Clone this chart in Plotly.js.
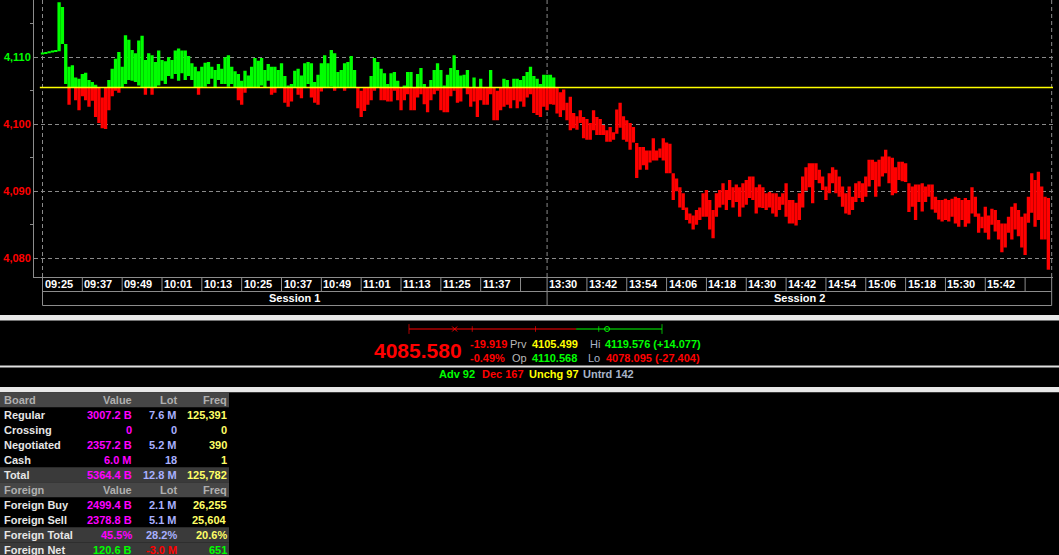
<!DOCTYPE html>
<html>
<head>
<meta charset="utf-8">
<script src="https://cdn.plot.ly/plotly-3.0.1.min.js"></script>
<style>
  html, body { margin: 0; padding: 0; background: #000; overflow: hidden; }
  #chart { width: 1059px; height: 555px; }
</style>
</head>
<body>
<div id="chart"></div>
<script>
'use strict';

// per-minute low / high of the index; session 1 starts 09:25, session 2 starts 13:30
var s1Low = [
  4110.4, 4110.5, 4110.6, 4110.7, 4110.8, 4110.9, 4112.0, 4106.0, 4102.9, 4105.5,
  4103.6, 4102.1, 4104.2, 4103.6, 4102.6, 4103.5, 4101.1, 4100.2, 4099.4, 4099.3,
  4102.1, 4104.2, 4105.0, 4104.7, 4105.5, 4106.0, 4106.6, 4106.5, 4106.3, 4105.8,
  4105.5, 4104.4, 4105.5, 4104.4, 4105.5, 4105.8, 4106.5, 4106.0, 4107.2, 4106.8,
  4107.5, 4106.5, 4107.6, 4106.6, 4107.2, 4106.6, 4105.5, 4104.4, 4105.5, 4105.6,
  4106.0, 4106.8, 4105.5, 4106.6, 4106.0, 4106.0, 4105.6, 4106.0, 4105.5, 4103.6,
  4102.9, 4104.7, 4105.5, 4105.5, 4105.5, 4105.5, 4105.8, 4105.5, 4106.5, 4104.4,
  4104.7, 4105.5, 4105.5, 4103.2, 4102.6, 4103.4, 4105.5, 4104.4, 4103.9, 4105.5,
  4106.0, 4104.0, 4103.2, 4102.9, 4104.9, 4105.5, 4105.5, 4105.6, 4105.0, 4105.5,
  4105.5, 4105.0, 4105.5, 4105.5, 4105.5, 4102.4, 4101.1, 4102.0, 4102.9, 4103.6,
  4105.0, 4105.5, 4103.6, 4103.6, 4103.4, 4103.4, 4105.0, 4103.6, 4102.1, 4103.6,
  4104.5, 4102.1, 4102.1, 4104.0, 4104.5, 4103.0, 4101.8, 4103.6, 4104.5, 4105.0,
  4102.1, 4101.8, 4101.8, 4104.2, 4105.0, 4103.2, 4103.4, 4105.5, 4104.5, 4102.6,
  4103.4, 4101.1, 4103.6, 4102.9, 4102.9, 4104.5, 4100.6, 4100.6, 4102.1, 4102.6,
  4102.9, 4102.4, 4103.6, 4102.4, 4103.4, 4102.6, 4104.0, 4104.5, 4101.7, 4101.4,
  4101.1, 4102.6
];
var s1High = [
  4110.7, 4110.8, 4110.9, 4111.0, 4111.1, 4118.2, 4117.5, 4112.0, 4108.6, 4108.8,
  4107.0, 4106.8, 4107.5, 4107.7, 4106.6, 4106.3, 4105.9, 4105.5, 4104.0, 4105.5,
  4106.6, 4108.3, 4109.8, 4110.8, 4108.6, 4113.3, 4112.6, 4111.1, 4110.6, 4112.5,
  4113.2, 4109.6, 4110.6, 4110.3, 4109.3, 4111.0, 4109.6, 4109.4, 4110.0, 4109.6,
  4111.0, 4111.3, 4111.0, 4111.0, 4110.2, 4109.1, 4108.6, 4107.9, 4108.6, 4109.2,
  4109.3, 4108.6, 4108.1, 4109.0, 4108.3, 4110.0, 4110.3, 4108.6, 4107.9, 4107.5,
  4106.5, 4108.0, 4107.3, 4108.6, 4109.9, 4109.5, 4109.9, 4108.1, 4109.0, 4108.6,
  4108.6, 4108.1, 4109.1, 4107.2, 4105.8, 4106.0, 4108.0, 4108.3, 4107.3, 4109.1,
  4109.3, 4109.1, 4106.3, 4107.4, 4109.1, 4110.3, 4109.1, 4111.1, 4110.6, 4107.8,
  4108.1, 4109.1, 4109.3, 4110.2, 4108.1, 4105.5, 4105.0, 4105.5, 4105.5, 4107.2,
  4109.9, 4109.3, 4108.3, 4107.6, 4106.0, 4107.6, 4107.8, 4106.5, 4105.5, 4105.8,
  4107.8, 4107.8, 4105.5, 4107.5, 4108.4, 4106.0, 4105.5, 4106.6, 4108.1, 4109.1,
  4108.1, 4105.8, 4107.4, 4108.4, 4110.3, 4108.1, 4107.3, 4107.4, 4108.1, 4105.5,
  4107.0, 4105.5, 4106.8, 4105.5, 4105.5, 4108.1, 4105.5, 4105.0, 4105.5, 4106.8,
  4106.6, 4105.5, 4106.8, 4106.8, 4106.6, 4107.2, 4107.8, 4108.6, 4107.2, 4106.8,
  4106.0, 4107.4
];
var s2Low = [
  4102.1, 4103.0, 4102.9, 4101.6, 4101.1, 4102.1, 4100.6, 4099.1,
  4099.4, 4099.2, 4100.2, 4097.9, 4097.7, 4097.7, 4099.1, 4098.4, 4098.4, 4098.4,
  4097.4, 4097.4, 4097.7, 4098.6, 4099.5, 4097.7, 4097.4, 4096.2, 4097.3, 4092.0,
  4093.2, 4093.9, 4093.2, 4094.3, 4094.6, 4094.6, 4095.0, 4094.6, 4092.7, 4092.7,
  4088.7, 4090.0, 4087.6, 4087.2, 4085.7, 4085.2, 4084.3, 4085.0, 4085.7, 4086.2,
  4086.2, 4084.3, 4083.0, 4086.2, 4087.6, 4088.0, 4087.2, 4088.7, 4087.6, 4088.4,
  4086.2, 4087.6, 4088.0, 4089.0, 4088.7, 4086.7, 4087.6, 4087.5, 4087.2, 4087.6,
  4086.7, 4086.2, 4087.2, 4088.0, 4086.2, 4085.2, 4085.2, 4084.9, 4085.7, 4087.6,
  4090.1, 4090.6, 4088.2, 4091.7, 4091.2, 4090.2, 4088.7, 4089.7, 4091.2, 4089.7,
  4089.2, 4087.7, 4086.7, 4086.5, 4087.2, 4088.4, 4089.0, 4088.4, 4089.2, 4090.7,
  4091.7, 4089.2, 4090.7, 4092.2, 4092.7, 4091.2, 4089.4, 4089.7, 4091.7, 4091.5,
  4091.4, 4086.9, 4087.7, 4085.7, 4088.4, 4087.0, 4088.4, 4089.2, 4087.3, 4086.8,
  4085.8, 4085.5, 4085.7, 4085.5, 4086.2, 4085.2, 4084.7, 4085.7, 4084.7, 4085.2,
  4086.7, 4086.2, 4083.8, 4084.5, 4083.8, 4082.8, 4085.0, 4084.0, 4082.8, 4080.9,
  4081.6, 4083.8, 4082.8, 4084.3, 4083.3, 4081.6, 4080.5, 4085.3, 4086.8, 4084.7,
  4085.7, 4082.8, 4082.8, 4078.3
];
var s2High = [
  4107.4, 4107.4, 4107.0, 4105.5, 4104.8, 4105.2, 4103.2, 4104.1,
  4101.7, 4101.2, 4102.1, 4101.1, 4100.8, 4100.2, 4102.1, 4101.1, 4100.8, 4099.9,
  4099.1, 4099.6, 4098.8, 4102.2, 4103.2, 4101.2, 4100.6, 4100.2, 4099.6, 4097.2,
  4096.6, 4096.6, 4096.1, 4096.1, 4097.9, 4096.1, 4096.4, 4097.9, 4097.3, 4097.1,
  4092.7, 4091.9, 4090.6, 4089.7, 4087.6, 4086.7, 4086.4, 4087.2, 4087.6, 4089.7,
  4090.2, 4088.7, 4087.2, 4089.7, 4090.2, 4091.2, 4090.2, 4091.7, 4090.6, 4091.0,
  4090.6, 4091.2, 4091.7, 4092.2, 4092.2, 4090.6, 4091.0, 4090.6, 4089.7, 4089.9,
  4089.7, 4089.7, 4089.2, 4089.7, 4091.2, 4088.7, 4088.7, 4088.3, 4089.7, 4092.2,
  4093.6, 4094.2, 4094.2, 4094.2, 4093.2, 4092.2, 4090.7, 4092.7, 4093.6, 4093.2,
  4092.2, 4090.7, 4089.7, 4090.7, 4089.2, 4091.2, 4091.5, 4091.2, 4092.2, 4094.7,
  4094.7, 4094.4, 4094.7, 4095.2, 4096.2, 4095.2, 4095.0, 4093.6, 4094.4, 4094.4,
  4094.2, 4091.2, 4090.7, 4091.0, 4091.0, 4091.2, 4090.7, 4091.0, 4091.0, 4089.2,
  4088.7, 4088.7, 4088.9, 4088.7, 4088.9, 4089.2, 4089.0, 4088.7, 4089.0, 4088.7,
  4090.6, 4089.2, 4086.7, 4086.2, 4087.7, 4086.4, 4087.4, 4087.2, 4085.7, 4085.2,
  4085.2, 4086.2, 4087.7, 4088.2, 4087.2, 4086.2, 4086.7, 4089.2, 4092.7, 4091.7,
  4092.9, 4090.7, 4089.2, 4089.0
];

var prevClose = 4105.499;
var lastPrice = 4085.580;
var openPrice = 4110.568;
var highPrice = 4119.576;
var lowPrice = 4078.095;

var tickLabels1 = ['09:25', '09:37', '09:49', '10:01', '10:13', '10:25', '10:37', '10:49', '11:01', '11:13', '11:25', '11:37'];
var tickLabels2 = ['13:30', '13:42', '13:54', '14:06', '14:18', '14:30', '14:42', '14:54', '15:06', '15:18', '15:30', '15:42'];
var sessionNames = ['Session 1', 'Session 2'];

var breadthLabels = ['Adv', 'Dec', 'Unchg', 'Untrd'];
var breadthCounts = [92, 167, 97, 142];

var boardRows = ['Regular', 'Crossing', 'Negotiated', 'Cash', 'Total'];
var boardValue = ['3007.2 B', '0', '2357.2 B', '6.0 M', '5364.4 B'];
var boardLot = ['7.6 M', '0', '5.2 M', '18', '12.8 M'];
var boardFreq = ['125,391', '0', '390', '1', '125,782'];

var foreignRows = ['Foreign Buy', 'Foreign Sell', 'Foreign Total', 'Foreign Net'];
var foreignValue = ['2499.4 B', '2378.8 B', '45.5%', '120.6 B'];
var foreignLot = ['2.1 M', '5.1 M', '28.2%', '-3.0 M'];
var foreignFreq = ['26,255', '25,604', '20.6%', '651'];

// ---- page geometry (pixels of the 1059x555 window) ----
var W = 1059, H = 555;
function X(px) { return px / W; }
function Y(py) { return 1 - py / H; }

var FONT = 'Liberation Sans, Arial, sans-serif';
var GREEN = '#00ff00', RED = '#ff0000', YELLOW = '#ffff00';
var GRID = '#8a8a8a', FRAME = '#8c8c8c';

var SESSION_LEN = 152;
var yMin = 4077.21, yMax = 4118.55;
var plotBottom = 277, rowMid = 291.5, rowBottom = 305.5;
var split = Y(plotBottom) + (prevClose - yMin) / (yMax - yMin) * (1 - Y(plotBottom));

function toMin(t) { var p = t.split(':'); return +p[0] * 60 + +p[1]; }

var xs = [], lows = [], highs = [];
s1Low.forEach(function (v, i) { xs.push(i); lows.push(v); highs.push(s1High[i]); });
s2Low.forEach(function (v, i) { xs.push(SESSION_LEN + i); lows.push(v); highs.push(s2High[i]); });
var spans = highs.map(function (h, i) { return h - lows[i]; });
var xEnd = 2 * SESSION_LEN;

// each minute is a low-high bar; the green copy sits in the upper subplot and the red
// copy in the lower one, so the previous close splits them
function rangeBars(axis, color) {
  return {type: 'bar', x: xs, base: lows, y: spans, width: 1, xaxis: 'x', yaxis: axis,
          marker: {color: color, line: {width: 0}}, hoverinfo: 'skip'};
}

// day range bar
var quarters = [0, 1, 2, 3, 4].map(function (k) { return lowPrice + k * (highPrice - lowPrice) / 4; });
var rangeTraces = [
  {x: [lowPrice, prevClose], y: [0, 0], xaxis: 'x3', yaxis: 'y3', mode: 'lines',
   line: {color: RED, width: 1}, cliponaxis: false, hoverinfo: 'skip'},
  {x: [prevClose, highPrice], y: [0, 0], xaxis: 'x3', yaxis: 'y3', mode: 'lines',
   line: {color: GREEN, width: 1}, cliponaxis: false, hoverinfo: 'skip'},
  {x: quarters, y: quarters.map(function () { return 0; }), xaxis: 'x3', yaxis: 'y3', mode: 'markers',
   marker: {symbol: 'line-ns', size: quarters.map(function (q, k) { return (k === 0 || k === 4) ? 7 : 4; }),
            line: {width: 1, color: quarters.map(function (q) { return q < prevClose ? RED : GREEN; })}},
   cliponaxis: false, hoverinfo: 'skip'},
  {x: [lastPrice], y: [0], xaxis: 'x3', yaxis: 'y3', mode: 'markers',
   marker: {symbol: 'x-thin', size: 5, line: {width: 1, color: lastPrice < prevClose ? RED : GREEN}},
   cliponaxis: false, hoverinfo: 'skip'},
  {x: [openPrice], y: [0], xaxis: 'x3', yaxis: 'y3', mode: 'markers',
   marker: {symbol: 'circle-open', size: 5, color: openPrice < prevClose ? RED : GREEN, line: {width: 1}},
   cliponaxis: false, hoverinfo: 'skip'}
];

var shapes = [];
var annotations = [];

function line(xref, x0, x1, y0, y1, color, dash, width) {
  shapes.push({type: 'line', xref: xref, yref: 'paper', x0: x0, x1: x1, y0: y0, y1: y1,
               layer: 'below', line: {color: color, width: width || 1, dash: dash || 'solid'}});
}
function rect(x0, x1, py0, py1, color) {
  shapes.push({type: 'rect', xref: 'paper', yref: 'paper', x0: X(x0), x1: X(x1), y0: Y(py1), y1: Y(py0),
               layer: 'below', fillcolor: color, line: {width: 0}});
}
function txt(text, px, py, color, anchor, size, weight) {
  annotations.push({xref: 'paper', yref: 'paper', x: X(px), y: Y(py), xanchor: anchor || 'left',
                    yanchor: 'middle', text: text, showarrow: false, borderpad: 0,
                    font: {family: FONT, size: size || 11, color: color, weight: weight || 'bold'}});
}

// vertical dashed grid at session edges
[0, SESSION_LEN, xEnd].forEach(function (m) {
  line('x', m, m, Y(plotBottom), 1, GRID, '4px,3px');
});

// previous close
shapes.push({type: 'line', xref: 'x', yref: 'paper', x0: -0.8, x1: xEnd + 0.4, y0: split, y1: split,
             layer: 'above', line: {color: YELLOW, width: 1.5}});

// time row + session row boxes
line('x', 0, xEnd, Y(rowMid), Y(rowMid), FRAME);
line('x', 0, xEnd, Y(rowBottom), Y(rowBottom), FRAME);
[0, SESSION_LEN, xEnd].forEach(function (m) {
  line('x', m, m, Y(plotBottom), Y(rowBottom), FRAME);
});
[0, SESSION_LEN].forEach(function (off) {
  for (var t = 12; t < SESSION_LEN; t += 12) {
    line('x', off + t, off + t, Y(plotBottom), Y(rowMid), FRAME);
  }
});
[[tickLabels1, 0], [tickLabels2, SESSION_LEN]].forEach(function (s) {
  var start = toMin(s[0][0]);
  s[0].forEach(function (lab) {
    annotations.push({xref: 'x', yref: 'paper', x: s[1] + toMin(lab) - start, y: Y((plotBottom + rowMid) / 2),
                      xanchor: 'left', yanchor: 'middle', xshift: 1, text: lab, showarrow: false, borderpad: 0,
                      font: {family: FONT, size: 11, color: '#ffffff', weight: 'bold'}});
  });
});
sessionNames.forEach(function (name, i) {
  annotations.push({xref: 'x', yref: 'paper', x: i * SESSION_LEN + SESSION_LEN / 2, y: Y((rowMid + rowBottom) / 2),
                    xanchor: 'center', yanchor: 'middle', text: name, showarrow: false, borderpad: 0,
                    font: {family: FONT, size: 11, color: '#ffffff', weight: 'bold'}});
});

// panel separators
rect(0, W, 315, 320.5, '#e8e8e8');
rect(0, W, 365.5, 367.5, '#e0e0e0');
rect(0, W, 387, 392.3, '#e8e8e8');

// quote block
var chg = lastPrice - prevClose;
var chgColor = chg < 0 ? RED : GREEN;
function signed(v) { return (v > 0 ? '+' : '') + v.toFixed(3); }
txt(lastPrice.toFixed(3), 372.5, 350.5, chgColor, 'left', 21);
txt(chg.toFixed(3), 468.5, 344.3, chgColor);
txt((chg / prevClose * 100).toFixed(2) + '%', 468.5, 358, chgColor);
txt('Prv', 528, 344.3, '#b8b8b8', 'right', 11, 'normal');
txt(prevClose.toFixed(3), 531, 344.3, YELLOW);
txt('Op', 528, 358, '#b8b8b8', 'right', 11, 'normal');
txt(openPrice.toFixed(3), 531, 358, openPrice < prevClose ? RED : GREEN);
txt('Hi', 601, 344.3, '#a8b4c8', 'right', 11, 'normal');
txt(highPrice.toFixed(3) + ' (' + signed(highPrice - prevClose) + ')', 603.5, 344.3, GREEN);
txt('Lo', 601, 358, '#a8b4c8', 'right', 11, 'normal');
txt(lowPrice.toFixed(3) + ' (' + signed(lowPrice - prevClose) + ')', 604.5, 358, RED);

// breadth row
var breadthColors = [GREEN, RED, YELLOW, '#a8b4c8'];
var breadthX = [438, 481, 528, 582];
breadthLabels.forEach(function (lab, i) {
  txt(lab + ' ' + breadthCounts[i], breadthX[i], 374.3, breadthColors[i]);
});

// board / foreign table
var HEAD_BG = '#464646', HL_BG = '#3a3a3a', HEAD_FG = '#b0b0b0';
var colRight = [133, 178, 227.5];
var colColors = ['#ff00ff', '#a8b0ff', '#ffff66'];
var rows = [{head: true, cells: ['Board', 'Value', 'Lot', 'Freq']}];
boardRows.forEach(function (r, i) {
  rows.push({cells: [r, boardValue[i], boardLot[i], boardFreq[i]], hl: r === 'Total'});
});
rows.push({head: true, cells: ['Foreign', 'Value', 'Lot', 'Freq']});
foreignRows.forEach(function (r, i) {
  rows.push({cells: [r, foreignValue[i], foreignLot[i], foreignFreq[i]],
             hl: r === 'Foreign Total' || r === 'Foreign Net', net: r === 'Foreign Net'});
});
rows.forEach(function (row, r) {
  var top = 392.3 + 15 * r, mid = top + 7.7;
  if (row.head) rect(0, 229, top, top + 15, HEAD_BG);
  else if (row.hl) rect(0, 229, top, top + 15, HL_BG);
  txt(row.cells[0], 3, mid, row.head ? HEAD_FG : '#e6e6e6');
  for (var c = 1; c < 4; c++) {
    var col = row.head ? HEAD_FG : colColors[c - 1];
    if (row.net) col = row.cells[c].charAt(0) === '-' ? RED : GREEN;
    txt(row.cells[c], colRight[c - 1], mid, col, 'right');
  }
});

var tickFont = function (color) { return {family: FONT, size: 11, color: color, weight: 'bold'}; };
var yCommon = {
  dtick: 10, tick0: 0, tickformat: ',.0f', showgrid: true, gridcolor: GRID, griddash: '4px,3px',
  zeroline: false, showline: true, linecolor: FRAME, linewidth: 1, ticks: '',
  minor: {dtick: 5, ticks: 'outside', ticklen: 3, tickcolor: FRAME, tickwidth: 1, showgrid: false},
  anchor: 'x', fixedrange: true
};

var layout = {
  width: W, height: H,
  margin: {l: 0, r: 0, t: 0, b: 0},
  paper_bgcolor: '#000000', plot_bgcolor: '#000000',
  showlegend: false,
  xaxis: {domain: [X(34), X(1053)], range: [-2.56, xEnd + 0.4], showgrid: false, zeroline: false,
          showticklabels: false, ticks: '', showline: true, linecolor: FRAME, linewidth: 1,
          anchor: 'y', fixedrange: true},
  yaxis: Object.assign({}, yCommon, {domain: [Y(plotBottom), split], range: [yMin, prevClose], tickfont: tickFont(RED)}),
  yaxis2: Object.assign({}, yCommon, {domain: [split, 1], range: [prevClose, yMax], tickfont: tickFont(GREEN)}),
  xaxis3: {domain: [X(409), X(662)], range: [lowPrice, highPrice], visible: false, anchor: 'y3', fixedrange: true},
  yaxis3: {domain: [Y(336), Y(322)], range: [-1, 1], visible: false, anchor: 'x3', fixedrange: true},
  shapes: shapes,
  annotations: annotations
};

Plotly.newPlot('chart', [rangeBars('y', RED), rangeBars('y2', GREEN)].concat(rangeTraces), layout,
               {displayModeBar: false, staticPlot: true});
</script>
</body>
</html>
